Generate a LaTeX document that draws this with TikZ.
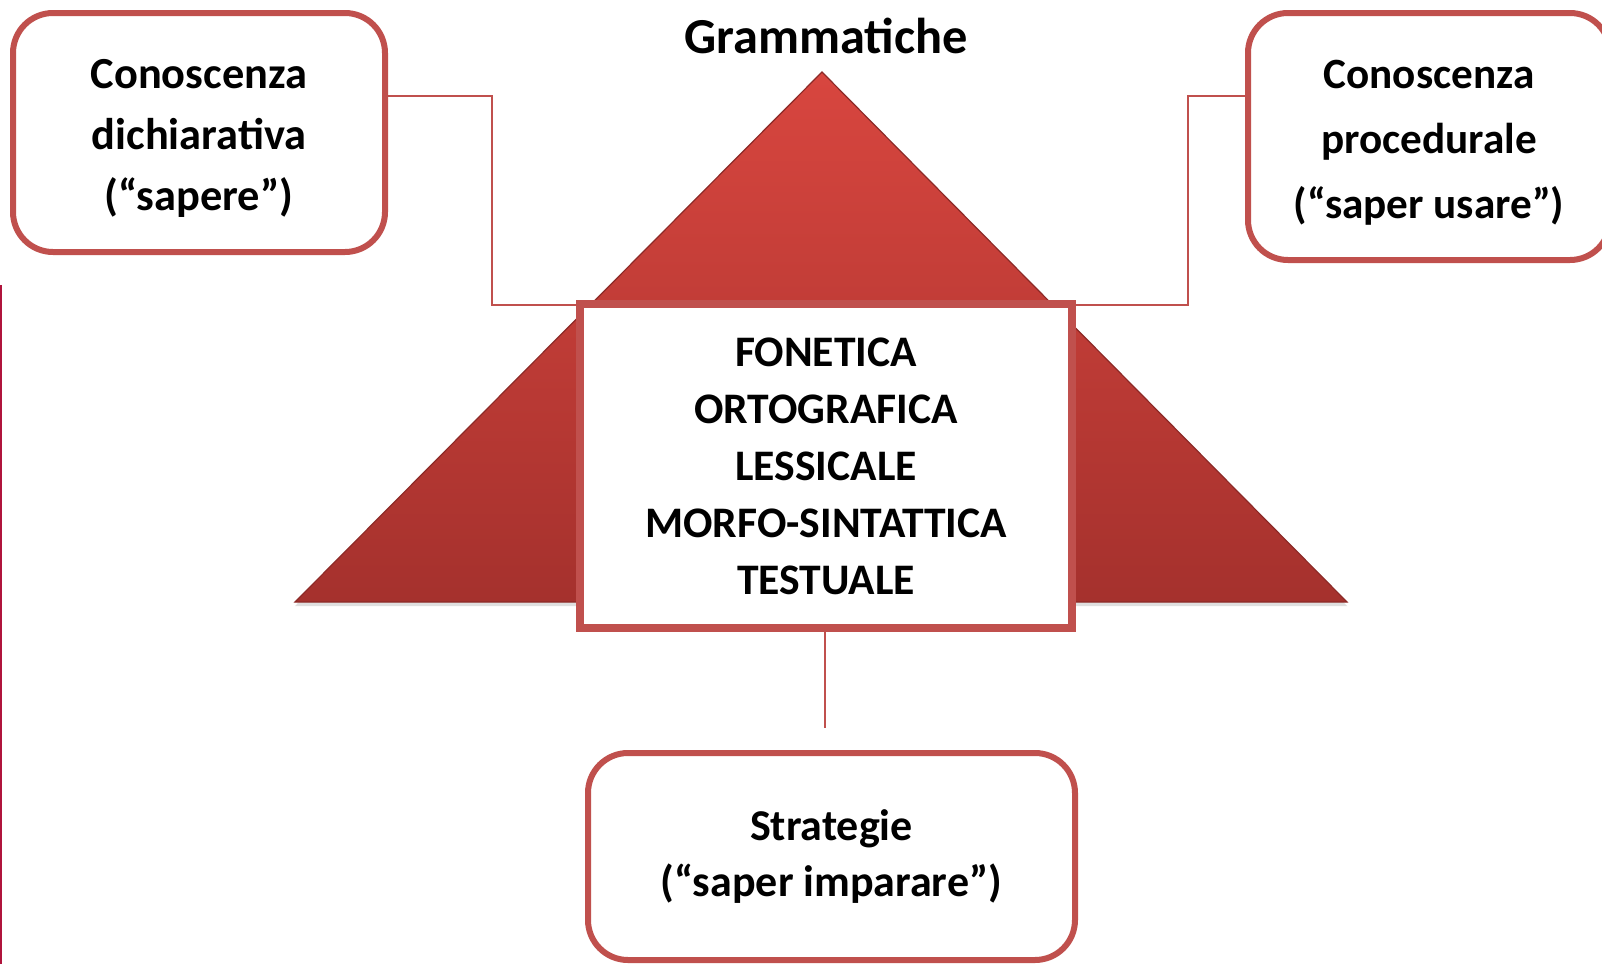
\documentclass[tikz,border=0pt]{standalone}
\usepackage{fontspec}
\setmainfont{Carlito}
\usetikzlibrary{shadows}

\definecolor{boxred}{HTML}{C0504D}
\definecolor{tritop}{HTML}{D8463F}
\definecolor{tribot}{HTML}{A5312D}
\definecolor{triedge}{HTML}{8C2A27}
\definecolor{sidered}{HTML}{B0143C}

\begin{document}
\begin{tikzpicture}[x=0.5pt,y=-0.5pt,thick,
    roundbox/.style={rectangle,rounded corners=20pt,draw=boxred,line width=3pt,fill=white,align=center,inner sep=2pt},
    corebox/.style={rectangle,draw=boxred,line width=4pt,fill=white,align=center,inner sep=2pt},
    link/.style={draw=boxred,line width=1pt}]
    \useasboundingbox (0,0) rectangle (1602,964);
    \fill[white] (0,0) rectangle (1602,964);

    \draw[sidered,line width=1pt] (1,285) -- (1,964);

    % pyramid
    \shade[top color=tritop,bottom color=tribot,draw=triedge,line width=0.6pt,
        drop shadow={shadow xshift=0pt,shadow yshift=-2pt,opacity=0.25}]
        (822,72) -- (1347,602) -- (295,602) -- cycle;
    \node[font=\bfseries\fontsize{25.2}{30}\selectfont,anchor=base] (gram) at (826,53) {Grammatiche};

    \node[corebox,minimum width=246pt,minimum height=162pt,font=\bfseries\fontsize{21.8}{28.5}\selectfont] (core) at (826,466)
        {FONETICA\\ORTOGRAFICA\\LESSICALE\\MORFO-SINTATTICA\\TESTUALE};

    \node[roundbox,minimum width=186pt,minimum height=119.5pt,font=\bfseries\fontsize{22.2}{30.5}\selectfont] (dich) at (199,132.5)
        {\rule{0pt}{20pt}Conoscenza\\dichiarativa\\(“sapere”)};
    \node[roundbox,minimum width=181pt,minimum height=123.5pt,font=\bfseries\fontsize{21.6}{32.5}\selectfont] (proc) at (1429,136.5)
        {\rule{0pt}{20pt}Conoscenza\\procedurale\\(“saper usare”)};
    \node[roundbox,minimum width=243.5pt,minimum height=103.5pt,font=\bfseries\fontsize{22}{28}\selectfont] (strat) at (831.5,856.5)
        {Strategie\\(“saper imparare”)};

    \coordinate (lup) at (0,96);
    \coordinate (lk) at (492,305);
    \coordinate (rk) at (1188,305);
    \coordinate (sk) at (825,728);

    \draw[link] (dich.east |- lup) -| (lk) -- (lk -| core.west);
    \draw[link] (proc.west |- lup) -| (rk) -- (rk -| core.east);
    \draw[link] (core.south -| sk) -- (sk);
\end{tikzpicture}
\end{document}
